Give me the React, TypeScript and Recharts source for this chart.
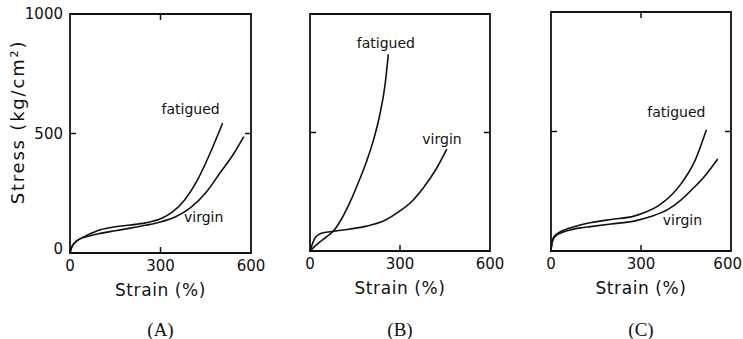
import React from 'react';
import { LineChart, Line, XAxis, YAxis, ReferenceDot, ReferenceArea, Label } from 'recharts';

const strainTicks = [0, 300, 600];
const stressTicks = [0, 500, 1000];

// panel (A)
const strainAFatigued = [0, 5, 15, 30, 60, 100, 150, 200, 250, 300, 340, 380, 420, 460, 506];
const stressAFatigued = [0, 22, 42, 57, 76, 97, 110, 117, 126, 143, 172, 222, 300, 405, 544];
const strainAVirgin = [0, 5, 15, 30, 60, 100, 150, 200, 250, 300, 350, 400, 450, 500, 540, 576];
const stressAVirgin = [0, 22, 42, 57, 70, 82, 93, 104, 116, 130, 152, 190, 252, 340, 410, 487];

// panel (B)
const strainBFatigued = [0, 30, 55, 80, 105, 133, 160, 189, 212, 233, 250, 261];
const stressBFatigued = [0, 35, 60, 87, 135, 205, 285, 380, 470, 577, 700, 830];
const strainBVirgin = [0, 8, 17, 30, 44, 78, 130, 189, 250, 300, 340, 378, 420, 456];
const stressBVirgin = [0, 30, 56, 70, 77, 83, 92, 105, 130, 169, 210, 267, 345, 430];

// panel (C)
const strainCFatigued = [0, 2, 5, 10, 20, 30, 60, 100, 131, 200, 277, 320, 356, 400, 434, 480, 518];
const stressCFatigued = [0, 25, 45, 60, 72, 80, 95, 110, 118, 132, 146, 165, 188, 232, 282, 378, 507];
const strainCVirgin = [0, 2, 5, 10, 20, 30, 60, 100, 131, 200, 277, 330, 390, 430, 468, 510, 556];
const stressCVirgin = [0, 22, 40, 55, 67, 74, 87, 97, 102, 113, 125, 143, 174, 210, 255, 310, 385];

const pts = (xs: number[], ys: number[]) => xs.map((x, i) => ({ x, y: ys[i] }));

const FONT = '"DejaVu Sans", sans-serif';
const INK = '#111';
const AXIS_W = 70;
const RIGHT_PAD = 24;

const makeBottomTick = (pullLast: boolean) => (props: any) => {
  const { x, y, payload } = props;
  const axisY = y - 7;
  const last = pullLast && payload.value === 600;
  return (
    <g>
      {payload.value === 300 && <line x1={x} y1={axisY} x2={x} y2={axisY - 6} stroke={INK} strokeWidth={1.5} />}
      <text
        x={last ? x + 11 : x}
        y={y}
        dy="0.71em"
        textAnchor={last ? 'end' : 'middle'}
        fontSize={15}
        fill={INK}
        fontFamily={FONT}
      >
        {payload.value}
      </text>
    </g>
  );
};

const makeLeftTick = (showText: boolean) => (props: any) => {
  const { x, y, payload } = props;
  const axisX = x + 7;
  return (
    <g>
      {payload.value === 500 && <line x1={axisX} y1={y} x2={axisX + 6} y2={y} stroke={INK} strokeWidth={1.5} />}
      {showText && (
        <text x={x} y={payload.value === 0 ? y - 4 : y} dy="0.355em" textAnchor="end" fontSize={15} fill={INK} fontFamily={FONT}>
          {payload.value}
        </text>
      )}
    </g>
  );
};

const makeTopTick = (show: boolean) => (props: any) => {
  const { x, y, payload } = props;
  if (!show || payload.value !== 300) return <g />;
  return <line x1={x} y1={y} x2={x} y2={y + 6} stroke={INK} strokeWidth={1.5} />;
};

const RightTick = (props: any) => {
  const { x, y, payload } = props;
  if (payload.value !== 500) return <g />;
  return <line x1={x} y1={y} x2={x - 6} y2={y} stroke={INK} strokeWidth={1.5} />;
};

type PanelProps = {
  name: string;
  plotLeft: number;
  plotRight: number;
  plotTop: number;
  plotBottom: number;
  yLabels: boolean;
  topTick: boolean;
  pullLast?: boolean;
  fatigued: { x: number; y: number }[];
  virgin: { x: number; y: number }[];
  fatiguedAt: [number, number];
  virginAt: [number, number];
};

const Panel = (p: PanelProps) => {
  const plotW = p.plotRight - p.plotLeft;
  const width = AXIS_W + plotW + RIGHT_PAD;
  const height = 339;
  const labelStyle = { fontSize: 14, fill: INK, fontFamily: FONT };
  return (
    <div style={{ position: 'absolute', left: p.plotLeft - AXIS_W, top: 0 }}>
      <LineChart
        width={width}
        height={height}
        margin={{ top: p.plotTop - 1, right: RIGHT_PAD - 1, left: 0, bottom: height - p.plotBottom - 30 }}
      >
        <XAxis
          dataKey="x"
          type="number"
          domain={[0, 600]}
          ticks={strainTicks}
          interval={0}
          tickSize={0}
          tickMargin={7}
          height={30}
          axisLine={false}
          tickLine={false}
          tick={makeBottomTick(!!p.pullLast)}
        >
          <Label value="Strain (%)" position="bottom" offset={1} fontSize={17} letterSpacing={0.6} fill={INK} fontFamily={FONT} />
        </XAxis>
        <XAxis
          xAxisId="top"
          orientation="top"
          dataKey="x"
          type="number"
          domain={[0, 600]}
          ticks={strainTicks}
          interval={0}
          tickSize={0}
          tickMargin={0}
          height={1}
          axisLine={false}
          tickLine={false}
          tick={makeTopTick(p.topTick)}
        />
        <YAxis
          type="number"
          domain={[0, 1000]}
          ticks={stressTicks}
          interval={0}
          tickSize={0}
          tickMargin={7}
          width={AXIS_W}
          axisLine={false}
          tickLine={false}
          tick={makeLeftTick(p.yLabels)}
        />
        <YAxis
          yAxisId="right"
          orientation="right"
          type="number"
          domain={[0, 1000]}
          ticks={stressTicks}
          interval={0}
          tickSize={0}
          tickMargin={0}
          width={1}
          axisLine={false}
          tickLine={false}
          tick={RightTick}
        />
        <ReferenceArea x1={0} x2={600} y1={0} y2={1000} fill="none" fillOpacity={0} stroke={INK} strokeWidth={1.8} />
        <Line
          data={p.fatigued}
          dataKey="y"
          xAxisId="top"
          yAxisId="right"
          type="monotone"
          stroke={INK}
          strokeWidth={1.6}
          dot={false}
          isAnimationActive={false}
        />
        <Line data={p.virgin} dataKey="y" type="monotone" stroke={INK} strokeWidth={1.6} dot={false} isAnimationActive={false} />
        <ReferenceDot x={p.fatiguedAt[0]} y={p.fatiguedAt[1]} r={1} fill="none" stroke="none"
          label={{ value: 'fatigued', position: 'center', ...labelStyle }} />
        <ReferenceDot x={p.virginAt[0]} y={p.virginAt[1]} r={1} fill="none" stroke="none"
          label={{ value: 'virgin', position: 'center', ...labelStyle }} />
      </LineChart>
      <div
        style={{
          position: 'absolute',
          left: AXIS_W + plotW / 2 - 40,
          top: 319,
          width: 80,
          textAlign: 'center',
          fontFamily: '"Liberation Serif", serif',
          fontSize: 19,
          lineHeight: '22px',
          color: INK,
        }}
      >
        ({p.name})
      </div>
    </div>
  );
};

export default function App() {
  return (
    <div style={{ position: 'absolute', left: 0, top: 0, width: 743, height: 339, background: '#fff', overflow: 'hidden' }}>
      <div
        style={{
          position: 'absolute',
          left: 17,
          top: 122,
          transform: 'translate(-50%, -50%) rotate(-90deg)',
          whiteSpace: 'nowrap',
          fontFamily: FONT,
          fontSize: 18,
          letterSpacing: 1.8,
          color: INK,
        }}
      >
        Stress (kg/cm²)
      </div>
      <Panel
        name="A"
        plotLeft={70}
        plotRight={251}
        plotTop={14}
        plotBottom={253}
        yLabels
        topTick
        fatigued={pts(strainAFatigued, stressAFatigued)}
        virgin={pts(strainAVirgin, stressAVirgin)}
        fatiguedAt={[400, 601]}
        virginAt={[443, 149]}
      />
      <Panel
        name="B"
        plotLeft={310}
        plotRight={490}
        plotTop={14}
        plotBottom={251}
        yLabels={false}
        topTick={false}
        fatigued={pts(strainBFatigued, stressBFatigued)}
        virgin={pts(strainBVirgin, stressBVirgin)}
        fatiguedAt={[253, 878]}
        virginAt={[440, 473]}
      />
      <Panel
        name="C"
        plotLeft={551}
        plotRight={731}
        plotTop={12}
        plotBottom={251}
        yLabels={false}
        topTick
        pullLast
        fatigued={pts(strainCFatigued, stressCFatigued)}
        virgin={pts(strainCVirgin, stressCVirgin)}
        fatiguedAt={[418, 582]}
        virginAt={[438, 128]}
      />
    </div>
  );
}
